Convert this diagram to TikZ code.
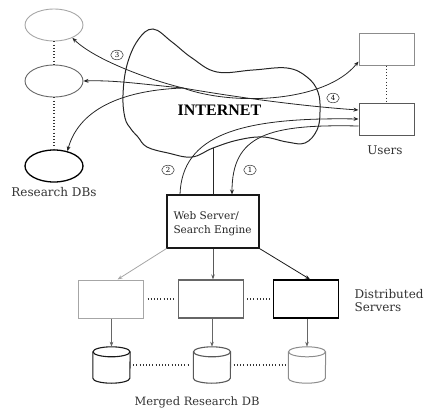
\documentclass[tikz,border=0pt]{standalone}
\usepackage{fontspec}
\setmainfont{DejaVu Serif}
\newfontfamily\netfont{Liberation Serif}
\usetikzlibrary{arrows.meta,shapes.geometric}
\newcommand\dbcyl[2]{%
  \draw[#2] ([yshift=-5pt]#1.north west) -- ([yshift=5pt]#1.south west)
    arc[start angle=180,end angle=360,x radius=18.5pt,y radius=5pt]
    -- ([yshift=-5pt]#1.north east);
  \draw[#2] ([yshift=-5pt]#1.north) ellipse[x radius=18.5pt,y radius=5pt];}
\begin{document}
\begin{tikzpicture}[x=1pt,y=-1pt,
  dbell/.style={ellipse, minimum width=58pt, minimum height=32pt, inner sep=0pt},
  userbox/.style={rectangle, minimum width=55pt, minimum height=32pt, inner sep=0pt},
  srvbox/.style={rectangle, minimum width=65pt, minimum height=38pt, inner sep=0pt},
  cylspot/.style={rectangle, minimum width=37pt, minimum height=36pt, inner sep=0pt},
  dots/.style={line width=1.1pt, dash pattern=on 0.9pt off 2.3pt, black!80},
  conn/.style={line width=0.8pt, black!85, -{Stealth[length=5pt,width=4pt]}},
  plain/.style={line width=0.8pt, black!85},
  down/.style={line width=0.8pt, -{Stealth[length=5pt,width=3.5pt]}},
  numlab/.style={ellipse, draw=black!70, line width=0.6pt, minimum width=12.5pt, minimum height=9.5pt, inner sep=0pt, font=\fontsize{7}{7}\selectfont},
  lab/.style={font=\fontsize{12}{14}\selectfont, text=black!80},
]
\useasboundingbox (0,0) rectangle (424,410);

% Internet cloud
\draw[line width=1pt, black!85] plot[smooth cycle, tension=0.65] coordinates {
  (153,29) (172,42) (192,58) (217,72) (253,70) (287,68) (307,77) (318,92)
  (320,112) (317,130) (305,143) (287,142) (263,137) (238,140) (213,148)
  (192,157) (168,153) (147,147) (138,137) (131,129) (125,118) (123,95)
  (127,65) (138,40)};
\node[font=\netfont\bfseries\fontsize{16}{16}\selectfont] (net) at (219.5,110) {INTERNET};

% Research DBs
\node[dbell, draw=black!35, line width=0.9pt] (r1) at (54,25) {};
\node[dbell, draw=black!60, line width=0.9pt] (r2) at (54,81) {};
\node[dbell, draw=black, line width=1.3pt] (r3) at (54,166) {};
\draw[dots] (r1.south) -- (r2.north);
\draw[dots] (r2.south) -- (r3.north);
\node[lab] (rlab) at (54,192) {Research DBs};

% Users
\node[userbox, draw=black!45, line width=1pt] (u1) at (386.5,49) {};
\node[userbox, draw=black!65, line width=1pt] (u2) at (386.5,119) {};
\draw[dots] (u1.south) -- (u2.north);
\node[lab] (ulab) at (385,150) {Users};

% Web server
\node[rectangle, draw=black!90, line width=1.1pt, minimum width=92pt, minimum height=53pt, inner sep=0pt] (ws) at (213,221.5) {};
\node[anchor=west, align=left, font=\fontsize{10.5}{14}\selectfont, text=black!85] (wslab) at (170,224) {Web Server/\\Search Engine};

% hub inside the internet
\coordinate (hub) at (183,88);
\coordinate (wsup) at (213,148);

% connectors through the internet
\draw[conn] (hub) .. controls (150,80) and (95,60) .. (r1.-35);
\draw[conn] (hub) .. controls (140,84) and (115,80) .. (r2.east);
\draw[conn] (hub) .. controls (128,90) and (80,106) .. (r3.48);
\draw[conn] (hub) .. controls (235,97) and (300,106) .. ([yshift=9pt]u2.west);
\draw[conn] (hub) .. controls (232,106) and (325,103) .. ([yshift=4pt]u1.south west);
\draw[conn] ([xshift=-33pt]ws.north) .. controls (182,135) and (240,117) .. (u2.west);
\draw[conn] ([yshift=-7pt]u2.west) .. controls (268,124) and (232,135) .. ([xshift=19pt]ws.north);
\draw[plain] (ws.north) -- (wsup);

\node[numlab] (n1) at (250,170) {1};
\node[numlab] (n2) at (168,170) {2};
\node[numlab] (n3) at (117,55) {3};
\node[numlab] (n4) at (333,98) {4};

% Distributed servers
\node[srvbox, draw=black!35, line width=1pt] (s1) at (110.5,299) {};
\node[srvbox, draw=black!60, line width=1.1pt] (s2) at (211,299) {};
\node[srvbox, draw=black, line width=1.4pt] (s3) at (306,299) {};
\draw[dots] ([xshift=4pt]s1.east) -- ([xshift=-3pt]s2.west);
\draw[dots] ([xshift=3pt]s2.east) -- ([xshift=-3pt]s3.west);
\node[anchor=west, align=left, font=\fontsize{12}{13}\selectfont, text=black!80] (dlab) at (351,301) {Distributed\\Servers};

\draw[down, black!35] (ws.south west) -- ([xshift=7pt]s1.north);
\draw[down, black!65] (ws.south) -- (ws.south |- s2.north);
\draw[down, black!90] (ws.south east) -- ([xshift=4pt]s3.north);

% Merged research DB
\node[cylspot] (c1) at (111.5,365) {};
\node[cylspot] (c2) at (212,365) {};
\node[cylspot] (c3) at (307,365) {};
\dbcyl{c1}{black!90, line width=1.1pt}
\dbcyl{c2}{black!65, line width=1.1pt}
\dbcyl{c3}{black!45, line width=1pt}
\draw[dots] ([xshift=3pt]c1.east) -- ([xshift=-3pt]c2.west);
\draw[dots] ([xshift=3pt]c2.east) -- ([xshift=-3pt]c3.west);
\draw[down, black!60, line width=0.7pt] (s1.south -| c1.north) -- (c1.north);
\draw[down, black!60, line width=0.7pt] (s2.south -| c2.north) -- (c2.north);
\draw[down, black!60, line width=0.7pt] (s3.south -| c3.north) -- (c3.north);
\node[lab, font=\fontsize{11.5}{14}\selectfont] (mlab) at (197,402) {Merged Research DB};
\end{tikzpicture}
\end{document}
